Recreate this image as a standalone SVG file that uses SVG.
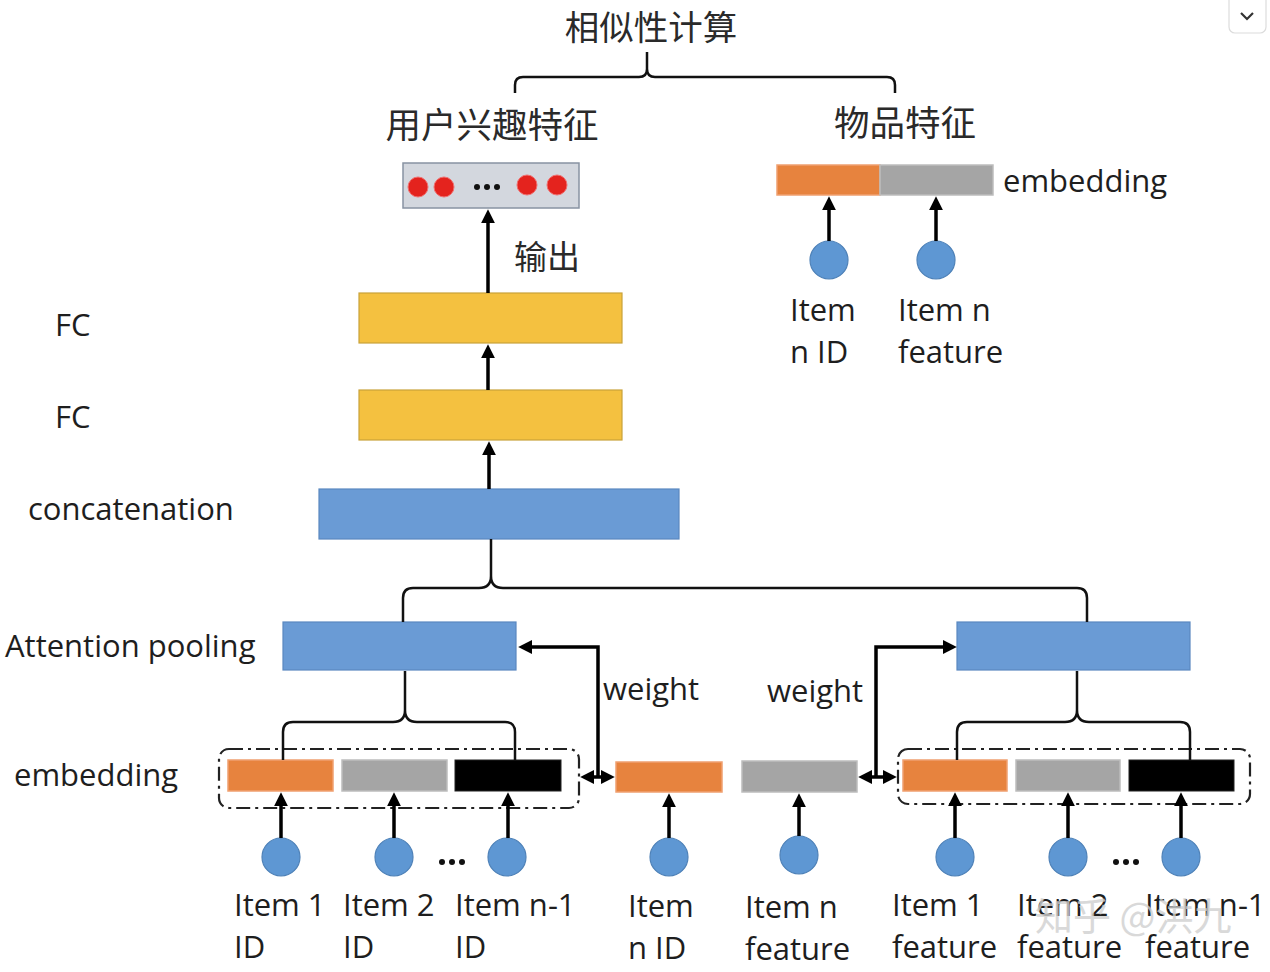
<svg xmlns="http://www.w3.org/2000/svg" width="1270" height="972" viewBox="0 0 1270 972">
<defs>
<marker id="ah" viewBox="0 0 10 10" refX="3" refY="5" markerWidth="14" markerHeight="14" markerUnits="userSpaceOnUse" orient="auto-start-reverse">
<path d="M0,0 L10,5 L0,10 z" fill="#000"/>
</marker>
<style>
.t{font-family:"Open Sans","Liberation Sans",sans-serif;font-size:31px;fill:#1e1e1e}
.cn{font-family:"Noto Sans CJK SC","Noto Sans",sans-serif;font-size:35.5px;fill:#2a2a2a}
.or{fill:#E7833E;stroke:#F0A070;stroke-width:1.5}
.gr{fill:#A5A5A5;stroke:#BDBDBD;stroke-width:1.5}
.bk{fill:#000;stroke:#222;stroke-width:1}
.bl{fill:#6A9BD5;stroke:#5A88C0;stroke-width:1.2}
.ye{fill:#F4C140;stroke:#C9A23A;stroke-width:1.2}
.ci{fill:#5E97D3;stroke:#4F82B8;stroke-width:1.2}
.ar{fill:none;stroke:#000;stroke-width:3.5;marker-end:url(#ah)}
.dar{fill:none;stroke:#000;stroke-width:3.5;marker-start:url(#ah);marker-end:url(#ah)}
.br{fill:none;stroke:#111;stroke-width:2.5}
.grp{fill:none;stroke:#222;stroke-width:2.2;stroke-dasharray:14,5,3,5}
</style>
</defs>
<rect width="1270" height="972" fill="#fff"/>

<!-- UI button -->
<g id="ui-button">
<rect x="1229" y="-8" width="37" height="41" rx="6" fill="#fff" stroke="#dcdcdc" stroke-width="1.2"/>
<polyline points="1241,13 1247,19 1253,13" fill="none" stroke="#333" stroke-width="2.2"/>
</g>

<!-- top labels -->
<g id="similarity">
<text class="cn" x="651" y="40" text-anchor="middle" style="font-size:34.5px">相似性计算</text>
</g>
<g id="user-interest-label"><text class="cn" x="492" y="138" text-anchor="middle">用户兴趣特征</text></g>
<g id="item-feature-label"><text class="cn" x="905" y="136" text-anchor="middle">物品特征</text></g>

<!-- user interest vector -->
<g id="user-vector">
<rect x="403" y="163" width="176" height="45" fill="#D3D7DE" stroke="#8893A2" stroke-width="1.5"/>
<circle cx="418" cy="187" r="10" fill="#E4231E" stroke="#f07070" stroke-width="1"/>
<circle cx="444" cy="187" r="10" fill="#E4231E" stroke="#f07070" stroke-width="1"/>
<circle cx="527" cy="185" r="10" fill="#E4231E" stroke="#f07070" stroke-width="1"/>
<circle cx="557" cy="185" r="10" fill="#E4231E" stroke="#f07070" stroke-width="1"/>
<circle cx="477" cy="187" r="3" fill="#111"/>
<circle cx="487" cy="187" r="3" fill="#111"/>
<circle cx="497" cy="187" r="3" fill="#111"/>
</g>
<g id="output-label"><text class="cn" x="514" y="269" style="font-size:33px">输出</text></g>

<!-- FC layers -->
<g id="fc1"><rect class="ye" x="359" y="293" width="263" height="50"/></g>
<g id="fc2"><rect class="ye" x="359" y="390" width="263" height="50"/></g>
<g id="concat"><rect class="bl" x="319" y="489" width="360" height="50"/></g>
<g id="fc1-label"><text class="t" x="55" y="336">FC</text></g>
<g id="fc2-label"><text class="t" x="55" y="428">FC</text></g>
<g id="concat-label"><text class="t" x="28" y="520">concatenation</text></g>
<g id="attn-label"><text class="t" x="5" y="657">Attention pooling</text></g>
<g id="emb-label"><text class="t" x="14" y="786">embedding</text></g>

<!-- attention pooling boxes -->
<g id="attn-left"><rect class="bl" x="283" y="622" width="233" height="48"/></g>
<g id="attn-right"><rect class="bl" x="957" y="622" width="233" height="48"/></g>

<!-- item embedding (top right) -->
<g id="item-embedding">
<rect class="or" x="777" y="165" width="103" height="30"/>
<rect class="gr" x="880" y="165" width="113" height="30"/>
<text class="t" x="1003" y="192">embedding</text>
</g>
<g id="top-item-id"><circle class="ci" cx="829" cy="260" r="19"/><text class="t" x="790" y="321">Item</text><text class="t" x="790" y="363">n ID</text></g>
<g id="top-item-feature"><circle class="ci" cx="936" cy="260" r="19"/><text class="t" x="898" y="321">Item n</text><text class="t" x="898" y="363">feature</text></g>

<!-- left embedding group -->
<g id="left-group">
<rect class="grp" x="219" y="749" width="360" height="59" rx="10"/>
<rect class="or" x="228" y="760" width="105" height="31"/>
<rect class="gr" x="342" y="760" width="105" height="31"/>
<rect class="bk" x="455" y="760" width="106" height="31"/>
</g>
<g id="item1-id"><circle class="ci" cx="281" cy="857" r="19"/><text class="t" x="234" y="916">Item 1</text><text class="t" x="234" y="958">ID</text></g>
<g id="item2-id"><circle class="ci" cx="394" cy="857" r="19"/><text class="t" x="343" y="916">Item 2</text><text class="t" x="343" y="958">ID</text></g>
<g id="dots-left"><circle cx="442" cy="862" r="3" fill="#111"/><circle cx="452" cy="862" r="3" fill="#111"/><circle cx="462" cy="862" r="3" fill="#111"/></g>
<g id="itemn1-id"><circle class="ci" cx="507" cy="857" r="19"/><text class="t" x="455" y="916">Item n-1</text><text class="t" x="455" y="958">ID</text></g>

<!-- middle -->
<g id="mid-id"><rect class="or" x="616" y="762" width="106" height="30"/><circle class="ci" cx="669" cy="857" r="19"/><text class="t" x="628" y="917">Item</text><text class="t" x="628" y="959">n ID</text></g>
<g id="mid-feature"><rect class="gr" x="742" y="761" width="115" height="31"/><circle class="ci" cx="799" cy="855" r="19"/><text class="t" x="745" y="918">Item n</text><text class="t" x="745" y="960">feature</text></g>
<g id="weight-labels"><text class="t" x="603" y="700">weight</text><text class="t" x="767" y="702">weight</text></g>

<!-- right embedding group -->
<g id="right-group">
<rect class="grp" x="898" y="749" width="352" height="55" rx="10"/>
<rect class="or" x="903" y="760" width="104" height="31"/>
<rect class="gr" x="1016" y="760" width="104" height="31"/>
<rect class="bk" x="1129" y="760" width="105" height="31"/>
</g>
<g id="item1-feature"><circle class="ci" cx="955" cy="857" r="19"/><text class="t" x="892" y="916">Item 1</text><text class="t" x="892" y="958">feature</text></g>
<g id="item2-feature"><circle class="ci" cx="1068" cy="857" r="19"/><text class="t" x="1017" y="916">Item 2</text><text class="t" x="1017" y="958">feature</text></g>
<g id="dots-right"><circle cx="1116" cy="862" r="3" fill="#111"/><circle cx="1126" cy="862" r="3" fill="#111"/><circle cx="1136" cy="862" r="3" fill="#111"/></g>
<g id="itemn1-feature"><circle class="ci" cx="1181" cy="857" r="19"/><text class="t" x="1145" y="916">Item n-1</text><text class="t" x="1145" y="958">feature</text></g>

<!-- connectors -->
<g id="connectors">
<path class="br" d="M515,93 V85 Q515,77 523,77 H639 Q647,77 647,69 V52 M647,69 Q647,77 655,77 H887 Q895,77 895,85 V93"/>
<path class="br" d="M491,539 V576 Q491,588 479,588 H413 Q403,588 403,598 V622 M491,576 Q491,588 503,588 H1077 Q1087,588 1087,598 V622"/>
<path class="br" d="M405,671 V710 Q405,722 393,722 H293 Q283,722 283,732 V760 M405,710 Q405,722 417,722 H505 Q515,722 515,732 V760"/>
<path class="br" d="M1077,671 V710 Q1077,722 1065,722 H967 Q957,722 957,732 V760 M1077,710 Q1077,722 1089,722 H1180 Q1190,722 1190,732 V760"/>
<path class="ar" d="M488,293 V219"/>
<path class="ar" d="M488,390 V354"/>
<path class="ar" d="M489,489 V451"/>
<path class="ar" d="M829,241 V206"/>
<path class="ar" d="M936,241 V206"/>
<path class="ar" d="M281,838 V802"/>
<path class="ar" d="M394,838 V802"/>
<path class="ar" d="M508,838 V802"/>
<path class="ar" d="M669,838 V803"/>
<path class="ar" d="M799,836 V803"/>
<path class="ar" d="M955,838 V802"/>
<path class="ar" d="M1068,838 V802"/>
<path class="ar" d="M1181,838 V802"/>
<path class="ar" d="M598,777 V647 H528"/>
<path class="dar" d="M590,777 H605"/>
<path class="ar" d="M876,777 V647 H947"/>
<path class="dar" d="M868,777 H887"/>
</g>

<!-- watermark -->
<g id="watermark"><text x="1035" y="930" style="font-family:'Noto Sans CJK SC',sans-serif;font-size:38px;fill:#d0d0d0;opacity:0.8">知乎 @洪九</text></g>
</svg>
